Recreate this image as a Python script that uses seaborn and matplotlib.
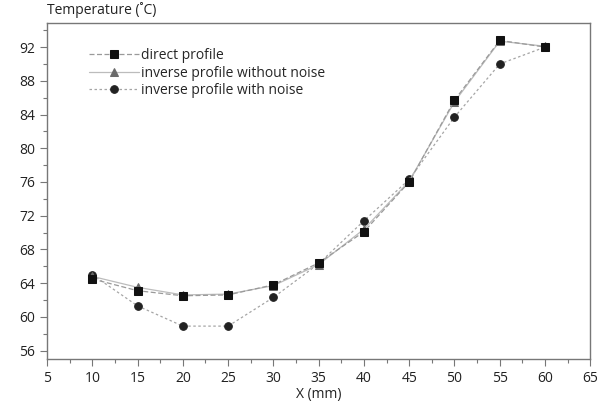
import numpy as np
import pandas as pd
import matplotlib
matplotlib.use("Agg")
import matplotlib.pyplot as plt
import seaborn as sns

# data
x_mm = [10, 15, 20, 25, 30, 35, 40, 45, 50, 55, 60]
direct = [64.5, 63.1, 62.5, 62.6, 63.8, 66.4, 70.1, 76.0, 85.7, 92.8, 92.0]
inv_no_noise = [64.8, 63.5, 62.6, 62.7, 63.7, 66.2, 70.4, 76.1, 85.5, 92.7, 92.1]
inv_noise = [65.0, 61.3, 58.9, 58.9, 62.3, 66.3, 71.4, 76.3, 83.7, 90.0, 92.0]

labels = ["direct profile", "inverse profile without noise", "inverse profile with noise"]

df = pd.DataFrame(
    {
        "x": x_mm * 3,
        "T": direct + inv_no_noise + inv_noise,
        "series": np.repeat(labels, len(x_mm)),
    }
)

sns.set_style("ticks")
plt.rcParams["font.family"] = ["Open Sans", "DejaVu Sans"]
plt.rcParams["font.size"] = 10

fig = plt.figure(figsize=(5.99, 4.05), dpi=100)
ax = fig.add_axes([0.0785, 0.1136, 0.907, 0.8284])

styles = {
    labels[0]: dict(marker="s", ms=5.8, mfc="#111111", mec="#111111", ls=(0, (4, 2)), color="#9a9a9a"),
    labels[1]: dict(marker="^", ms=6, mfc="#6a6a6a", mec="#6a6a6a", ls="-", color="#bcbcbc"),
    labels[2]: dict(marker="o", ms=5.5, mfc="#222222", mec="#222222", ls=(0, (2, 2)), color="#a5a5a5"),
}

# draw noise first so squares sit on top
for lab in [labels[2], labels[1], labels[0]]:
    st = styles[lab]
    sns.lineplot(
        data=df[df["series"] == lab],
        x="x",
        y="T",
        ax=ax,
        color=st["color"],
        linestyle=st["ls"],
        linewidth=0.9,
        marker=st["marker"],
        markersize=st["ms"],
        markerfacecolor=st["mfc"],
        markeredgecolor=st["mec"],
        label=lab,
    )

ax.set_xlim(5, 65)
ax.set_ylim(55, 94.8)
ax.set_xticks(np.arange(5, 66, 5))
ax.set_xticks(np.arange(5, 66, 2.5), minor=True)
ax.set_yticks(np.arange(56, 93, 4))
ax.set_yticks(np.arange(56, 95, 2), minor=True)

for sp in ax.spines.values():
    sp.set_color("#777777")
    sp.set_linewidth(1.0)
ax.tick_params(which="major", direction="out", length=5, width=0.8, color="#777777", labelsize=10, labelcolor="#222222")
ax.tick_params(which="minor", direction="out", length=3, width=0.8, color="#777777")

ax.set_xlabel("X (mm)", fontsize=10, color="#222222", labelpad=1)
ax.set_ylabel("")
ax.text(0.0, 1.015, "Temperature (˚C)", transform=ax.transAxes, fontsize=10, color="#222222",
        ha="left", va="bottom")

handles, lbls = ax.get_legend_handles_labels()
order = [lbls.index(l) for l in labels]
leg = ax.legend(
    [handles[i] for i in order],
    [lbls[i] for i in order],
    loc="upper left",
    bbox_to_anchor=(0.055, 0.965),
    frameon=False,
    fontsize=10,
    handlelength=3.6,
    handletextpad=0.15,
    labelspacing=0.2,
)

fig.savefig("out.png", dpi=100)
